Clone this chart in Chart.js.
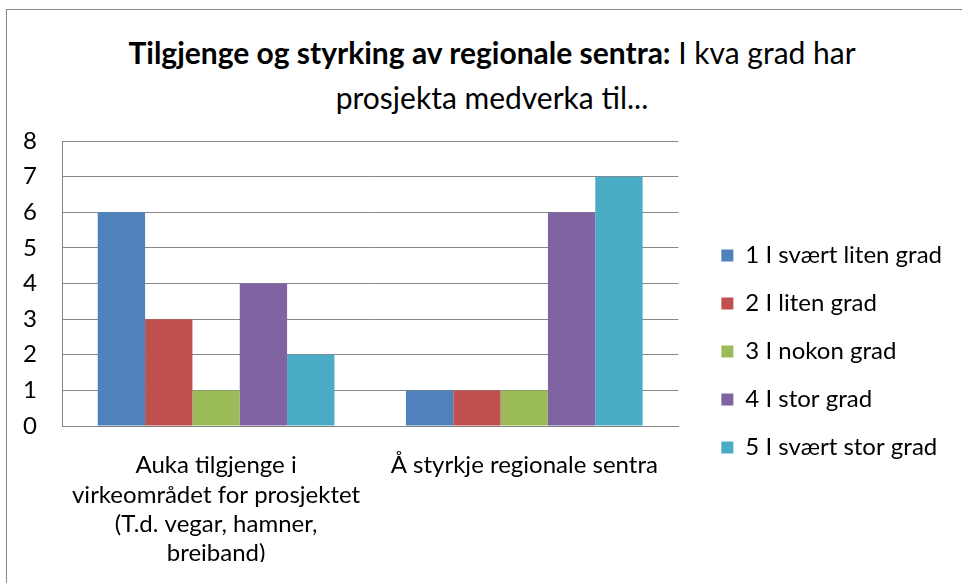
<!DOCTYPE html>
<html>
<head>
<meta charset="utf-8">
<script src="https://cdn.jsdelivr.net/npm/chart.js@4/dist/chart.umd.min.js"></script>
<style>
	html, body { margin: 0; padding: 0; background: #fff; }
	#wrap { position: relative; width: 962px; height: 583px; overflow: hidden; font-family: Lato, "Open Sans", sans-serif; }
	#frame { position: absolute; left: 6px; top: 9px; width: 1000px; height: 700px; border: 1px solid #868686; }
	#title { position: absolute; left: 10px; width: 964px; top: 30px; text-align: center; font-size: 30px; line-height: 45px; color: #000; }
	#chart { position: absolute; left: 0; top: 0; }
</style>
</head>
<body>
<div id="wrap">
	<div id="frame"></div>
	<div id="title"><b>Tilgjenge og styrking av regionale sentra:</b> I kva grad har<br>prosjekta medverka til...</div>
	<canvas id="chart" width="962" height="583"></canvas>
</div>
<script>
// categories (multi-line labels as in the original)
var categories = [
	['Auka tilgjenge i', 'virkeområdet for prosjektet', '(T.d. vegar, hamner,', 'breiband)'],
	'Å styrkje regionale sentra'
];
var seriesNames = ['1 I svært liten grad', '2 I liten grad', '3 I nokon grad', '4 I stor grad', '5 I svært stor grad'];
var svaertLiten = [6, 1];
var liten = [3, 1];
var nokon = [1, 1];
var stor = [4, 6];
var svaertStor = [2, 7];
var yTicks = [0, 1, 2, 3, 4, 5, 6, 7, 8];

var colors = ['#4F81BD', '#C0504D', '#9BBB59', '#8064A2', '#4BACC6'];
var values = [svaertLiten, liten, nokon, stor, svaertStor];

var datasets = values.map(function(v, i) {
	return {
		label: seriesNames[i],
		data: v,
		backgroundColor: colors[i],
		borderWidth: 0,
		categoryPercentage: 0.768,
		barPercentage: 1
	};
});

var font = 'Lato, "Open Sans", sans-serif';

new Chart(document.getElementById('chart'), {
	type: 'bar',
	data: { labels: categories, datasets: datasets },
	options: {
		responsive: false,
		animation: false,
		layout: { padding: { left: 23, top: 141, right: 10, bottom: 21 } },
		plugins: {
			tooltip: { enabled: false },
			title: { display: false },
			legend: {
				position: 'right',
				align: 'center',
				maxWidth: 400,
				labels: {
					boxWidth: 12,
					boxHeight: 12,
					padding: 24,
					color: '#000',
					font: { family: font, size: 24 }
				}
			}
		},
		scales: {
			x: {
				grid: { display: false, drawTicks: false },
				border: { display: true, color: '#868686' },
				afterFit: function(scale) { scale.height = 136; },
				ticks: {
					color: '#000',
					padding: 25,
					maxRotation: 0,
					autoSkip: false,
					font: { family: font, size: 24, lineHeight: 1.22 }
				}
			},
			y: {
				min: 0,
				max: 8,
				afterBuildTicks: function(scale) {
					scale.ticks = yTicks.map(function(t) { return { value: t }; });
				},
				afterFit: function(scale) { scale.width = 39; },
				grid: { color: '#868686', drawTicks: false },
				border: { display: true, color: '#868686' },
				ticks: {
					color: '#000',
					padding: 25,
					autoSkip: false,
					font: { family: font, size: 24 }
				}
			},
			// empty space between plot and legend
			gap: {
				type: 'linear',
				position: 'right',
				display: true,
				grid: { display: false },
				border: { display: false },
				ticks: { display: false },
				afterFit: function(scale) { scale.width = 19; }
			}
		}
	}
});
</script>
</body>
</html>
